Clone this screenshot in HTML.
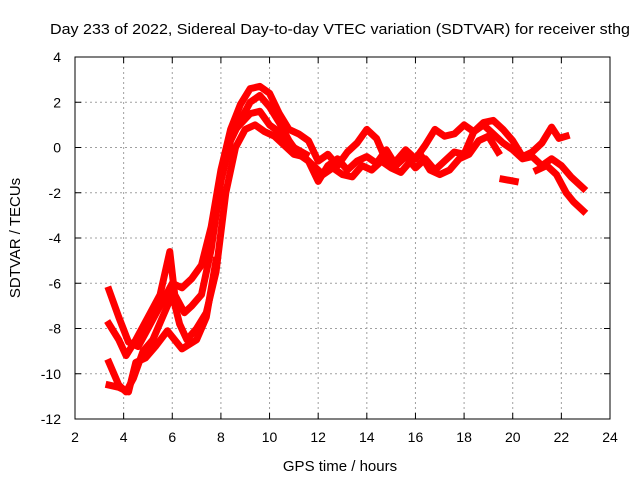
<!DOCTYPE html>
<html><head><meta charset="utf-8"><style>
body{margin:0;background:#fff}
svg{display:block;font-family:"Liberation Sans",sans-serif}
</style></head><body>
<svg id="chart" width="640" height="480" viewBox="0 0 640 480">
<text x="50" y="34" font-size="15" textLength="580" lengthAdjust="spacingAndGlyphs">Day 233 of 2022, Sidereal Day-to-day VTEC variation (SDTVAR) for receiver sthg</text>
<g id="grid"></g>
<g id="series"></g>
<rect x="75" y="57" width="535" height="362" fill="none" stroke="#000" stroke-width="1"/>
<g id="ticks"></g>
<text x="340" y="471" font-size="15" text-anchor="middle">GPS time / hours</text>
<text transform="translate(20,238) rotate(-90)" font-size="15" text-anchor="middle">SDTVAR / TECUs</text>
</svg>
<script>
const xTicks=[2,4,6,8,10,12,14,16,18,20,22,24];
const yTicks=[4,2,0,-2,-4,-6,-8,-10,-12];
const seriesAx=[3.4,3.8,4.2,4.6,5,5.5,6,6.4,6.8,7.2,7.6,8,8.4,8.8,9.2,9.6,10,10.4,10.8,11.2,11.6,12,12.4,12.8,13.2,13.6,14,14.4,14.8,15.2,15.6,16,16.4,16.8,17.2,17.6,18,18.4,18.8,19.2,19.6,20,20.4,20.8,21.2,21.6,21.9,22.2];
const seriesAy=[-6.3,-7.5,-8.6,-8.8,-8,-7,-6,-6.2,-5.8,-5.2,-3.5,-1,0.8,1.9,2.6,2.7,2.4,1.5,0.8,0.6,0.3,-0.6,-0.3,-0.8,-0.2,0.2,0.8,0.4,-0.6,-0.6,-0.1,-0.5,0.1,0.8,0.5,0.6,1,0.7,1.1,1.2,0.8,0.3,-0.4,-0.2,0.2,0.9,0.4,0.5];
const seriesBx=[3.4,3.8,4.1,4.5,5,5.5,5.9,6.1,6.5,6.8,7.2,7.6,8,8.4,8.8,9.2,9.6,10,10.4,10.8,11.2,11.6,12,12.4,12.8,13.2,13.6,14,14.4,14.8,15.2,15.6,16,16.4,16.8,17.2,17.6,18,18.4,18.8,19.2,19.6,20,20.4,20.8,21.2,21.6,22,22.4,22.9];
const seriesBy=[-7.8,-8.5,-9.2,-8.5,-7.5,-6.5,-4.6,-6.5,-7.3,-7,-6.5,-4.5,-1.5,0.3,1.2,2,2.3,1.8,1.1,0.3,-0.3,-0.6,-1.5,-0.8,-0.5,-1,-0.6,-0.4,-0.7,-0.1,-0.8,-0.4,-0.9,-0.5,-1,-0.6,-0.2,-0.3,0.7,1,0.6,0.2,-0.1,-0.5,-0.4,-0.8,-0.5,-0.8,-1.3,-1.8];
const seriesCx=[3.4,3.8,4.1,4.4,4.8,5.2,5.6,6,6.3,6.6,7,7.4,7.8,8.2,8.6,9,9.4,9.8,10.2,10.6,11,11.4,11.8,12.2,12.6,13,13.4,13.8,14.2,14.6,15,15.4,15.8,16.2,16.6,17,17.4,17.8,18.2,18.6,19,19.4];
const seriesCy=[-9.5,-10.5,-10.8,-10.2,-9,-8.5,-7.5,-6.5,-7.8,-8.5,-8,-7.3,-5.5,-2,0,0.8,1,0.7,0.5,0.1,-0.3,-0.4,-0.8,-1.2,-0.9,-1.2,-1.3,-0.8,-1,-0.6,-0.9,-1.1,-0.6,-0.3,-1,-1.2,-1,-0.5,-0.3,0.3,0.5,-0.2];
const seriesDx=[3.4,3.8,4.2,4.5,4.9,5.3,5.8,6.4,7,7.4,7.8];
const seriesDy=[-10.5,-10.6,-10.8,-9.5,-9.3,-8.8,-8.1,-8.9,-8.5,-7.5,-5];
const seriesEx=[21,21.4,21.8,22.2,22.5,22.9];
const seriesEy=[-1,-0.8,-1.2,-2,-2.4,-2.8];
const seriesFx=[19.6,20.1];
const seriesFy=[-1.4,-1.5];
const seriesGx=[8.6,9.2,9.6,10,10.5,11,11.5];
const seriesGy=[0.8,1.5,1.6,1,0.6,0,-0.3];

const X0=75,X1=610,Y0=419,Y1=57;
const sx=v=>X0+(v-2)/(24-2)*(X1-X0);
const sy=v=>Y0-(v-(-12))/(4-(-12))*(Y0-Y1);
const NS="http://www.w3.org/2000/svg";
const grid=document.getElementById('grid'),ticks=document.getElementById('ticks'),ser=document.getElementById('series');
function mk(t,a,p){const e=document.createElementNS(NS,t);for(const k in a)e.setAttribute(k,a[k]);p.appendChild(e);return e;}
xTicks.forEach(v=>{const x=sx(v);
 if(v>2&&v<24){const l=mk('line',{x1:x,x2:x,y1:Y1,y2:Y0,stroke:'#a0a0a0','stroke-dasharray':'2,3'},grid);
 
 }
 const t=mk('line',{x1:x,x2:x,y1:Y0,y2:Y0-6,stroke:'#000'},ticks);
 
 
 const t2=mk('line',{x1:x,x2:x,y1:Y1,y2:Y1+6,stroke:'#000'},ticks);
 
 
 const tx=mk('text',{x:x,y:442,'font-size':14,'text-anchor':'middle'},ticks);tx.textContent=v;
 
 
});
yTicks.forEach(v=>{const y=sy(v);
 if(v<4&&v>-12){const l=mk('line',{x1:X0,x2:X1,y1:y,y2:y,stroke:'#a0a0a0','stroke-dasharray':'2,3'},grid);
 
 }
 const t=mk('line',{x1:X0,x2:X0+6,y1:y,y2:y,stroke:'#000'},ticks);
 
 
 const t2=mk('line',{x1:X1,x2:X1-6,y1:y,y2:y,stroke:'#000'},ticks);
 
 
 const tx=mk('text',{x:61,y:y+5,'font-size':14,'text-anchor':'end'},ticks);tx.textContent=v;
 
 
});
[[seriesAx,seriesAy,'a'],[seriesBx,seriesBy,'b'],[seriesCx,seriesCy,'c'],[seriesDx,seriesDy,'d'],[seriesEx,seriesEy,'e'],[seriesFx,seriesFy,'f'],[seriesGx,seriesGy,'g']].forEach(([xs,ys,n])=>{
 const pts=xs.map((x,i)=>sx(x).toFixed(1)+','+sy(ys[i]).toFixed(1)).join(' ');
 const p=mk('polyline',{points:pts,fill:'none',stroke:'#ff0000','stroke-width':7,'stroke-linejoin':'round','stroke-linecap':'square'},ser);
 
 
});
</script>
</body></html>
